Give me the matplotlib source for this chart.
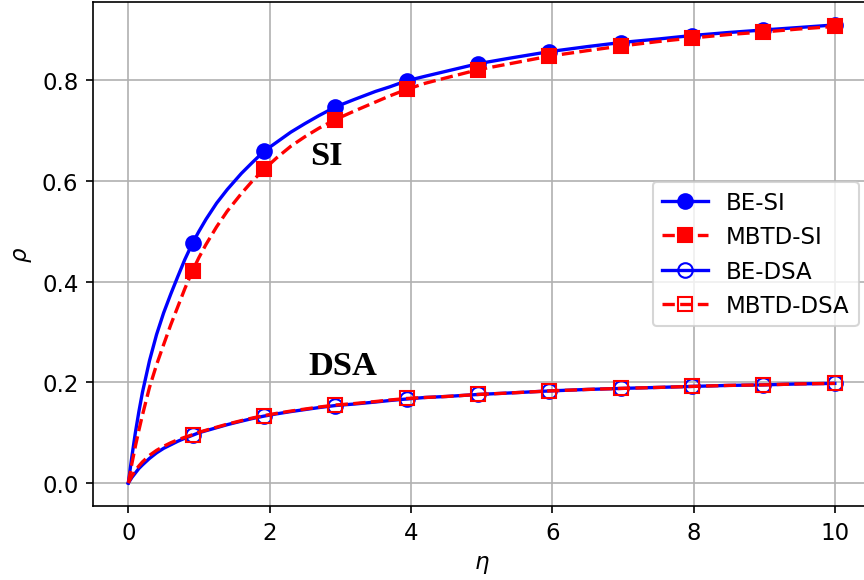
import matplotlib
matplotlib.use('Agg')
import matplotlib.pyplot as plt

plt.rcParams['font.size'] = 11

# eta grid for the curves (markers sit on the entries listed in marker_idx)
eta = [0, 0.05, 0.1, 0.15, 0.2, 0.3, 0.4, 0.5, 0.6, 0.7, 0.8, 0.91, 1.0, 1.1,
       1.25, 1.4, 1.6, 1.75, 1.92, 2.1, 2.3, 2.5, 2.7, 2.93, 3.2, 3.5, 3.7,
       3.94, 4.2, 4.5, 4.95, 5.4, 5.96, 6.5, 6.97, 7.5, 7.98, 8.5, 8.99, 9.5,
       10.0]
marker_idx = [11, 18, 23, 27, 30, 32, 34, 36, 38, 40]

be_si = [0, 0.052, 0.1, 0.142, 0.18, 0.243, 0.295, 0.338, 0.375, 0.41, 0.444,
         0.477, 0.5, 0.524, 0.556, 0.583, 0.615, 0.636, 0.659, 0.677, 0.697,
         0.714, 0.73, 0.747, 0.762, 0.778, 0.787, 0.799, 0.808, 0.818, 0.833,
         0.844, 0.857, 0.867, 0.875, 0.882, 0.889, 0.895, 0.9, 0.905, 0.91]
mbtd_si = [0, 0.038, 0.073, 0.105, 0.135, 0.19, 0.235, 0.275, 0.314, 0.35,
           0.386, 0.422, 0.448, 0.474, 0.509, 0.54, 0.575, 0.599, 0.623, 0.646,
           0.669, 0.688, 0.705, 0.722, 0.739, 0.757, 0.769, 0.782, 0.794,
           0.805, 0.821, 0.833, 0.848, 0.859, 0.868, 0.877, 0.884, 0.891,
           0.896, 0.902, 0.907]
be_dsa = [0, 0.011, 0.02, 0.029, 0.036, 0.049, 0.06, 0.069, 0.076, 0.083,
          0.089, 0.095, 0.1, 0.104, 0.11, 0.116, 0.123, 0.128, 0.133, 0.1375,
          0.142, 0.146, 0.15, 0.154, 0.157, 0.161, 0.164, 0.167, 0.17, 0.172,
          0.176, 0.179, 0.183, 0.186, 0.188, 0.19, 0.192, 0.194, 0.195, 0.197,
          0.198]
mbtd_dsa = [0, 0.014, 0.025, 0.034, 0.042, 0.055, 0.065, 0.073, 0.08, 0.086,
            0.091, 0.096, 0.101, 0.105, 0.111, 0.117, 0.124, 0.129, 0.134,
            0.1385, 0.143, 0.147, 0.151, 0.155, 0.158, 0.162, 0.165, 0.168,
            0.17, 0.172, 0.176, 0.179, 0.183, 0.186, 0.188, 0.19, 0.192, 0.194,
            0.195, 0.197, 0.198]

fig = plt.figure(figsize=(5.76, 3.8733), dpi=150)
ax = fig.add_axes([0.1076, 0.1274, 0.8995, 0.8674])

ax.plot(eta, be_si, 'b-', marker='o', markersize=7, lw=1.6,
        markevery=marker_idx, label='BE-SI')
ax.plot(eta, mbtd_si, 'r--', marker='s', markersize=7, lw=1.6,
        markevery=marker_idx, label='MBTD-SI')
ax.plot(eta, be_dsa, 'b-', marker='o', markersize=7, lw=1.6, mfc='none',
        markevery=marker_idx, label='BE-DSA')
ax.plot(eta, mbtd_dsa, 'r--', marker='s', markersize=7, lw=1.6, mfc='none',
        markevery=marker_idx, label='MBTD-DSA')

ax.text(2.8, 0.651, 'SI', fontsize=16.5, fontweight='bold',
        family='Liberation Serif', ha='center', va='center')
ax.text(3.03, 0.233, 'DSA', fontsize=16.5, fontweight='bold',
        family='Liberation Serif', ha='center', va='center')

ax.set_xlabel(r'$\eta$')
ax.set_ylabel(r'$\rho$')
ax.grid(True)
ax.legend(loc='center right')

fig.savefig('out.png', dpi=150)
